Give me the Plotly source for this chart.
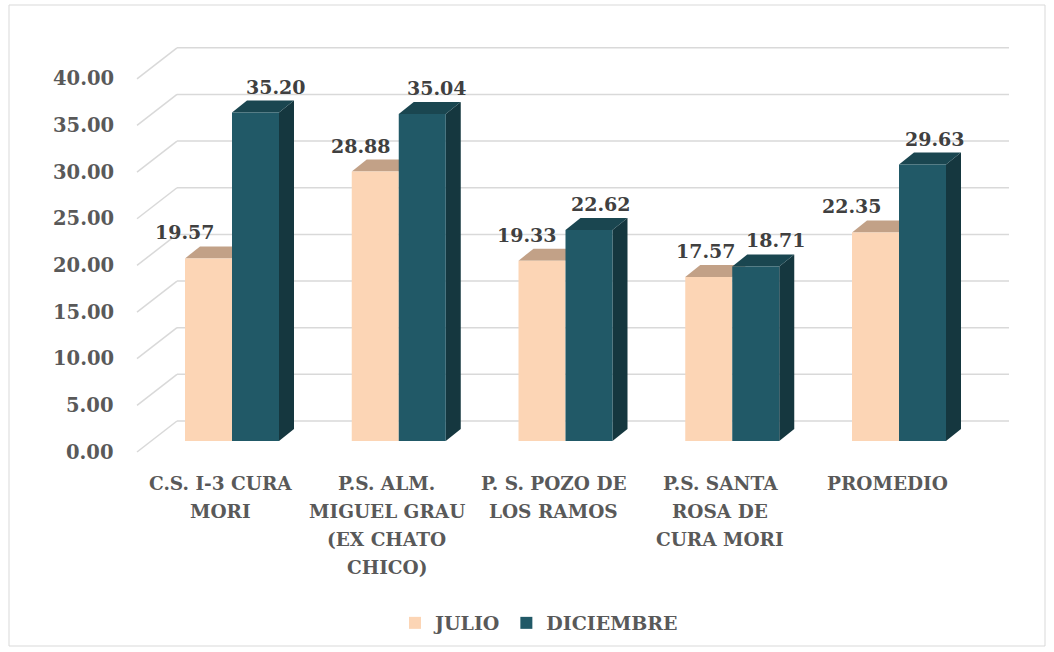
import plotly.graph_objects as go

# ---- data ----
categories = ["C.S. I-3 CURA<br>MORI", "P.S. ALM.<br>MIGUEL GRAU<br>(EX CHATO<br>CHICO)",
              "P. S. POZO DE<br>LOS RAMOS", "P.S. SANTA<br>ROSA DE<br>CURA MORI", "PROMEDIO"]
julio = [19.57, 28.88, 19.33, 17.57, 22.35]
diciembre = [35.20, 35.04, 22.62, 18.71, 29.63]
tick_vals = [0, 5, 10, 15, 20, 25, 30, 35, 40]
series_names = ["JULIO", "DICIEMBRE"]

# ---- geometry (pixel-based helpers) ----
W, H = 1054, 652
PX_CAT = 166.75        # px per category
PX_Y = 9.33            # px per unit
X0_PX = 232.0          # px of first category centre (front plane)
Y0_PX = 441.0          # px of value 0 (front plane of bars)
BAR_W_PX = 47.0
DEPTH_DX, DEPTH_DY = 15.0, 12.0       # bar depth
BACK_DY = 20.0                        # back wall relative to bar front
WALL_RIGHT_PX = 1009.0

def ux(px):
    return px / PX_CAT

def uy(px):
    return px / PX_Y

xr = [(0 - X0_PX) / PX_CAT, (W - X0_PX) / PX_CAT]
yr = [(Y0_PX - H) / PX_Y, Y0_PX / PX_Y]

c_j_front, c_j_top = "#FCD5B5", "#C2A187"
c_d_front, c_d_top, c_d_side = "#215967", "#1A4650", "#15373F"
grid_c = "#D9D9D9"
txt_c = "#595959"
val_c = "#404040"
FONT = "DejaVu Serif"

shapes = []
# gridlines: side wall diagonals + back wall horizontals
x_front_edge = ux(137 - X0_PX)
x_back = ux(177 - X0_PX)
x_right = ux(WALL_RIGHT_PX - X0_PX)
for v in tick_vals:
    shapes.append(dict(type="line", xref="x", yref="y", layer="below",
                       x0=x_front_edge, y0=v - uy(11), x1=x_back, y1=v + uy(BACK_DY),
                       line=dict(color=grid_c, width=1.5)))
    shapes.append(dict(type="line", xref="x", yref="y", layer="below",
                       x0=x_back, y0=v + uy(BACK_DY), x1=x_right, y1=v + uy(BACK_DY),
                       line=dict(color=grid_c, width=1.5)))

half = ux(BAR_W_PX / 2)
ddx, ddy = ux(DEPTH_DX), uy(DEPTH_DY)

def top_face(xc, v, color):
    xl, xrr = xc - half, xc + half
    path = (f"M{xl},{v} L{xl+ddx},{v+ddy} L{xrr+ddx},{v+ddy} L{xrr},{v} Z")
    return dict(type="path", xref="x", yref="y", layer="below", path=path,
                fillcolor=color, line=dict(width=0))

def side_face(xc, v, color):
    xrr = xc + half
    path = (f"M{xrr},{0} L{xrr},{v} L{xrr+ddx},{v+ddy} L{xrr+ddx},{ddy} Z")
    return dict(type="path", xref="x", yref="y", layer="below", path=path,
                fillcolor=color, line=dict(width=0))

xj = [i - half for i in range(len(categories))]
xd = [i + half for i in range(len(categories))]
for i in range(len(categories)):
    shapes.append(top_face(xj[i], julio[i], c_j_top))
for i in range(len(categories)):
    shapes.append(side_face(xd[i], diciembre[i], c_d_side))
    shapes.append(top_face(xd[i], diciembre[i], c_d_top))

# chart border
shapes.append(dict(type="rect", xref="paper", yref="paper",
                   x0=9 / W, x1=1045 / W, y0=1 - 646 / H, y1=1 - 5 / H,
                   line=dict(color=grid_c, width=1), fillcolor="rgba(0,0,0,0)"))

fig = go.Figure()
fig.add_trace(go.Bar(x=xj, y=julio, width=2 * half, name=series_names[0],
                     marker=dict(color=c_j_front, line=dict(width=0)), hoverinfo="y"))
fig.add_trace(go.Bar(x=xd, y=diciembre, width=2 * half, name=series_names[1],
                     marker=dict(color=c_d_front, line=dict(width=0)), hoverinfo="y"))

annotations = []
# y tick labels (front edge plane)
for v in tick_vals:
    annotations.append(dict(x=ux(116 - X0_PX), y=v - uy(11), xref="x", yref="y",
                            text=f"{v:.2f}", showarrow=False, xanchor="right", yanchor="middle",
                            font=dict(family=FONT, size=19.5, color=txt_c, weight="bold")))
# value labels
dx_j = [-24, -14, -15.5, -2.5, -23.5]
dx_d = [20, 15, 11.5, 20, 12.5]
for i in range(len(categories)):
    annotations.append(dict(x=xj[i], y=julio[i], xref="x", yref="y", text=f"{julio[i]:.2f}",
                            showarrow=False, xshift=dx_j[i], yshift=26, yanchor="middle",
                            font=dict(family=FONT, size=19, color=val_c, weight="bold")))
    annotations.append(dict(x=xd[i], y=diciembre[i], xref="x", yref="y", text=f"{diciembre[i]:.2f}",
                            showarrow=False, xshift=dx_d[i], yshift=26, yanchor="middle",
                            font=dict(family=FONT, size=19, color=val_c, weight="bold")))
# category labels (one annotation per line for Excel-like line spacing)
LINE_PX = 28
for i, c in enumerate(categories):
    for k, line in enumerate(c.split("<br>")):
        annotations.append(dict(x=i, y=0, xref="x", yref="y", text=line, showarrow=False,
                                xshift=-12, yshift=-42 - LINE_PX * k, yanchor="middle",
                                xanchor="center",
                                font=dict(family=FONT, size=18.5, color=txt_c, weight="bold")))

fig.update_layout(
    width=W, height=H, autosize=False,
    margin=dict(l=0, r=0, t=0, b=0),
    paper_bgcolor="white", plot_bgcolor="white",
    barmode="overlay",
    xaxis=dict(range=xr, visible=False, fixedrange=True),
    yaxis=dict(range=yr, visible=False, fixedrange=True),
    shapes=shapes, annotations=annotations,
    showlegend=True,
    legend=dict(orientation="h", x=0.5 + 12 / W, xanchor="center", y=1 - 623 / H, yanchor="middle",
                font=dict(family=FONT, size=19, color=txt_c, weight="bold"),
                itemclick=False, bgcolor="rgba(0,0,0,0)"),
)

fig.write_html("out.html", config={"displayModeBar": False},
               post_script="document.body.style.margin='0';document.body.style.overflow='hidden';")
